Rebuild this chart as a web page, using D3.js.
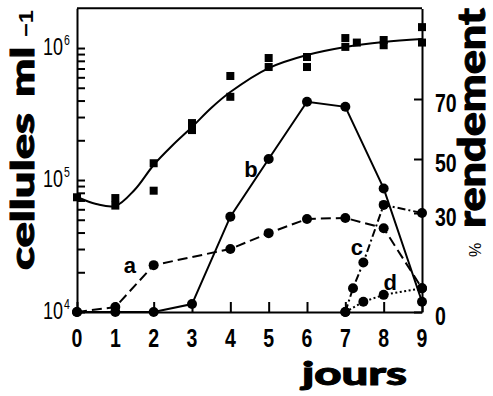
<!DOCTYPE html>
<html>
<head>
<meta charset="utf-8">
<script src="https://cdn.jsdelivr.net/npm/d3@7"></script>
<style>
body { margin: 0; background: #fff; }
svg { display: block; }
</style>
</head>
<body>
<svg id="chart" width="493" height="396"></svg>
<script>
// x axis, days
var days = [0, 1, 2, 3, 4, 5, 6, 7, 8, 9];

// cell counts (squares), cells per ml
var cellDays   = [0, 1, 1, 2, 2, 3, 3, 4, 4, 5, 5, 6, 6, 7, 7, 7.3, 8, 8, 9, 9];
var cellCounts = [74000, 73000, 64000, 134000, 83000, 270000, 239000, 614000, 427000,
                  840000, 718000, 855000, 718000, 1190000, 1020000, 1100000,
                  1150000, 1050000, 1440000, 1100000];

// hand drawn growth curve through the counts
var fitDays   = [0, 0.5, 1, 1.5, 2, 2.5, 3, 3.5, 4, 5, 6, 7, 8, 9];
var fitCounts = [74300, 65800, 63500, 84000, 130000, 184000, 252000, 351000,
                 464000, 705000, 886000, 1020000, 1110000, 1170000];

// yields, % rendement (right axis)
var aDays  = [0, 1, 2, 4, 5, 6, 7, 8, 9];
var aYield = [0, 1.5, 14.2, 19.1, 23.9, 28.2, 28.5, 25.4, 7.2];
var bDays  = [0, 1, 2, 3, 4, 5, 6, 7, 8, 9];
var bYield = [0, 0, 0, 2.4, 28.9, 50, 69.1, 67.4, 39.1, 3.1];
var cDays  = [7, 7.2, 7.47, 8, 9];
var cYield = [0, 7.2, 15, 33, 30];
var dDays  = [7, 7.47, 8, 9];
var dYield = [0, 3.1, 5.2, 7.2];

// tick values
var logTicks = [1e4, 1e5, 1e6];
var logExp = ["4", "5", "6"];
var pctTicks = [0, 30, 50, 70];

// curve names and where they sit (day, %)
var curveNames = ["a", "b", "c", "d"];
var nameDays = [1.38, 4.54, 7.3, 8.17];
var namePct = [11.8, 43.3, 17.3, 6.7];

var x = d3.scaleLinear().domain([0, 9]).range([77, 422]);
var yCells = d3.scaleLog().domain([1e4, 2e6]).range([312, 8.3]);
// the printed % axis is not quite even, so piecewise
var yPct = d3.scaleLinear().domain([0, 30, 50, 70, 100]).range([312, 213, 159, 99, 8.5]);

var svg = d3.select("#chart");
var tickFont = "'Liberation Sans', Arial, sans-serif";
var heavy = "Lato, Roboto, 'DejaVu Sans', sans-serif";

// minor ticks for each decade
var minor = [];
[1e4, 1e5].forEach(function (dec) {
	for (var k = 1; k <= 9; k++) minor.push(dec * k);
});
minor.push(1e6);

// frame + axes
svg.append("g").attr("class", "axis")
	.attr("transform", "translate(0,312)")
	.call(d3.axisBottom(x).tickValues(days).tickSize(-10).tickSizeOuter(0).tickFormat(""));
svg.append("g").attr("class", "axis")
	.attr("transform", "translate(77,0)")
	.call(d3.axisLeft(yCells).tickValues(minor).tickSize(-8).tickSizeOuter(0).tickFormat(""));
svg.append("g").attr("class", "axis")
	.attr("transform", "translate(422,0)")
	.call(d3.axisRight(yPct).tickValues(pctTicks).tickSize(-8).tickSizeOuter(0).tickFormat(""));
svg.append("line")
	.attr("x1", x(0)).attr("x2", x(9))
	.attr("y1", yCells(2e6)).attr("y2", yCells(2e6))
	.attr("stroke", "#000").attr("stroke-width", 2);
svg.selectAll(".axis path, .axis line").attr("stroke", "#000").attr("stroke-width", 2);

// tick labels, condensed
svg.append("g").selectAll("text").data(days).enter().append("text")
	.attr("transform", function (d) { return "translate(" + x(d) + ",347) scale(0.75,1)"; })
	.attr("text-anchor", "middle")
	.style("font", "bold 26px " + tickFont)
	.text(function (d) { return d; });

svg.append("g").selectAll("text").data(pctTicks).enter().append("text")
	.attr("transform", function (d) { return "translate(435," + (yPct(d) + 12.5) + ") scale(0.75,1)"; })
	.style("font", "bold 26px " + tickFont)
	.text(function (d) { return d; });

var lt = svg.append("g").selectAll("g").data(logTicks).enter().append("g");
lt.append("text")
	.attr("transform", function (d) { return "translate(63," + (yCells(d) + 7) + ") scale(0.75,1)"; })
	.attr("text-anchor", "end")
	.style("font", "24px " + tickFont)
	.text("10");
lt.append("text")
	.attr("transform", function (d) { return "translate(64," + (yCells(d) - 3) + ") scale(0.75,1)"; })
	.style("font", "14px " + tickFont)
	.text(function (d, i) { return logExp[i]; });

// growth curve and count squares
var cellLine = d3.line()
	.x(function (d, i) { return x(fitDays[i]); })
	.y(function (d) { return yCells(d); })
	.curve(d3.curveCatmullRom.alpha(0.5));
svg.append("path").attr("d", cellLine(fitCounts))
	.attr("fill", "none").attr("stroke", "#000").attr("stroke-width", 2);

svg.append("g").selectAll("rect").data(cellCounts).enter().append("rect")
	.attr("x", function (d, i) { return x(cellDays[i]) - 4; })
	.attr("y", function (d) { return yCells(d) - 4; })
	.attr("width", 8).attr("height", 8)
	.attr("fill", "#000");

// yield curves
var series = [
	{ days: aDays, vals: aYield, dash: "10,5" },
	{ days: bDays, vals: bYield, dash: null },
	{ days: cDays, vals: cYield, dash: "8,3,2,3" },
	{ days: dDays, vals: dYield, dash: "2,2.5" }
];
series.forEach(function (s) {
	var line = d3.line()
		.x(function (d, i) { return x(s.days[i]); })
		.y(function (d) { return yPct(d); });
	svg.append("path").attr("d", line(s.vals))
		.attr("fill", "none").attr("stroke", "#000").attr("stroke-width", 2)
		.attr("stroke-dasharray", s.dash);
	svg.append("g").selectAll("circle").data(s.vals).enter().append("circle")
		.attr("cx", function (d, i) { return x(s.days[i]); })
		.attr("cy", function (d) { return yPct(d); })
		.attr("r", 5)
		.attr("fill", "#000");
});

svg.append("g").selectAll("text").data(curveNames).enter().append("text")
	.attr("x", function (d, i) { return x(nameDays[i]); })
	.attr("y", function (d, i) { return yPct(namePct[i]); })
	.attr("text-anchor", "middle")
	.style("font", "bold 22px " + tickFont)
	.text(function (d) { return d; });

// axis titles, heavy type (a thin stroke fattens it)
function heavyText(t) {
	return t.style("font-weight", "900").style("font-family", heavy)
		.attr("stroke", "#000").attr("stroke-width", 1);
}
heavyText(svg.append("text")
	.attr("transform", "translate(34,270) rotate(-90)")
	.attr("textLength", 157).attr("lengthAdjust", "spacingAndGlyphs")
	.style("font-size", "32px")
	.text("cellules"));
heavyText(svg.append("text")
	.attr("transform", "translate(34,97) rotate(-90)")
	.attr("textLength", 50).attr("lengthAdjust", "spacingAndGlyphs")
	.style("font-size", "32px")
	.text("ml"));
svg.append("text")
	.attr("transform", "translate(33,37) rotate(-90)")
	.attr("textLength", 27).attr("lengthAdjust", "spacingAndGlyphs")
	.style("font", "bold 20px " + tickFont)
	.text("\u22121");

heavyText(svg.append("text")
	.attr("x", 302).attr("y", 385)
	.attr("textLength", 105).attr("lengthAdjust", "spacingAndGlyphs")
	.style("font-size", "32px")
	.text("jours"));

heavyText(svg.append("text")
	.attr("transform", "translate(485,228) rotate(-90)")
	.attr("textLength", 220).attr("lengthAdjust", "spacingAndGlyphs")
	.style("font-size", "38px")
	.text("rendement"));
svg.append("text")
	.attr("transform", "translate(481,250) rotate(-90)")
	.attr("text-anchor", "middle")
	.style("font", "16px " + tickFont)
	.text("%");
</script>
</body>
</html>
